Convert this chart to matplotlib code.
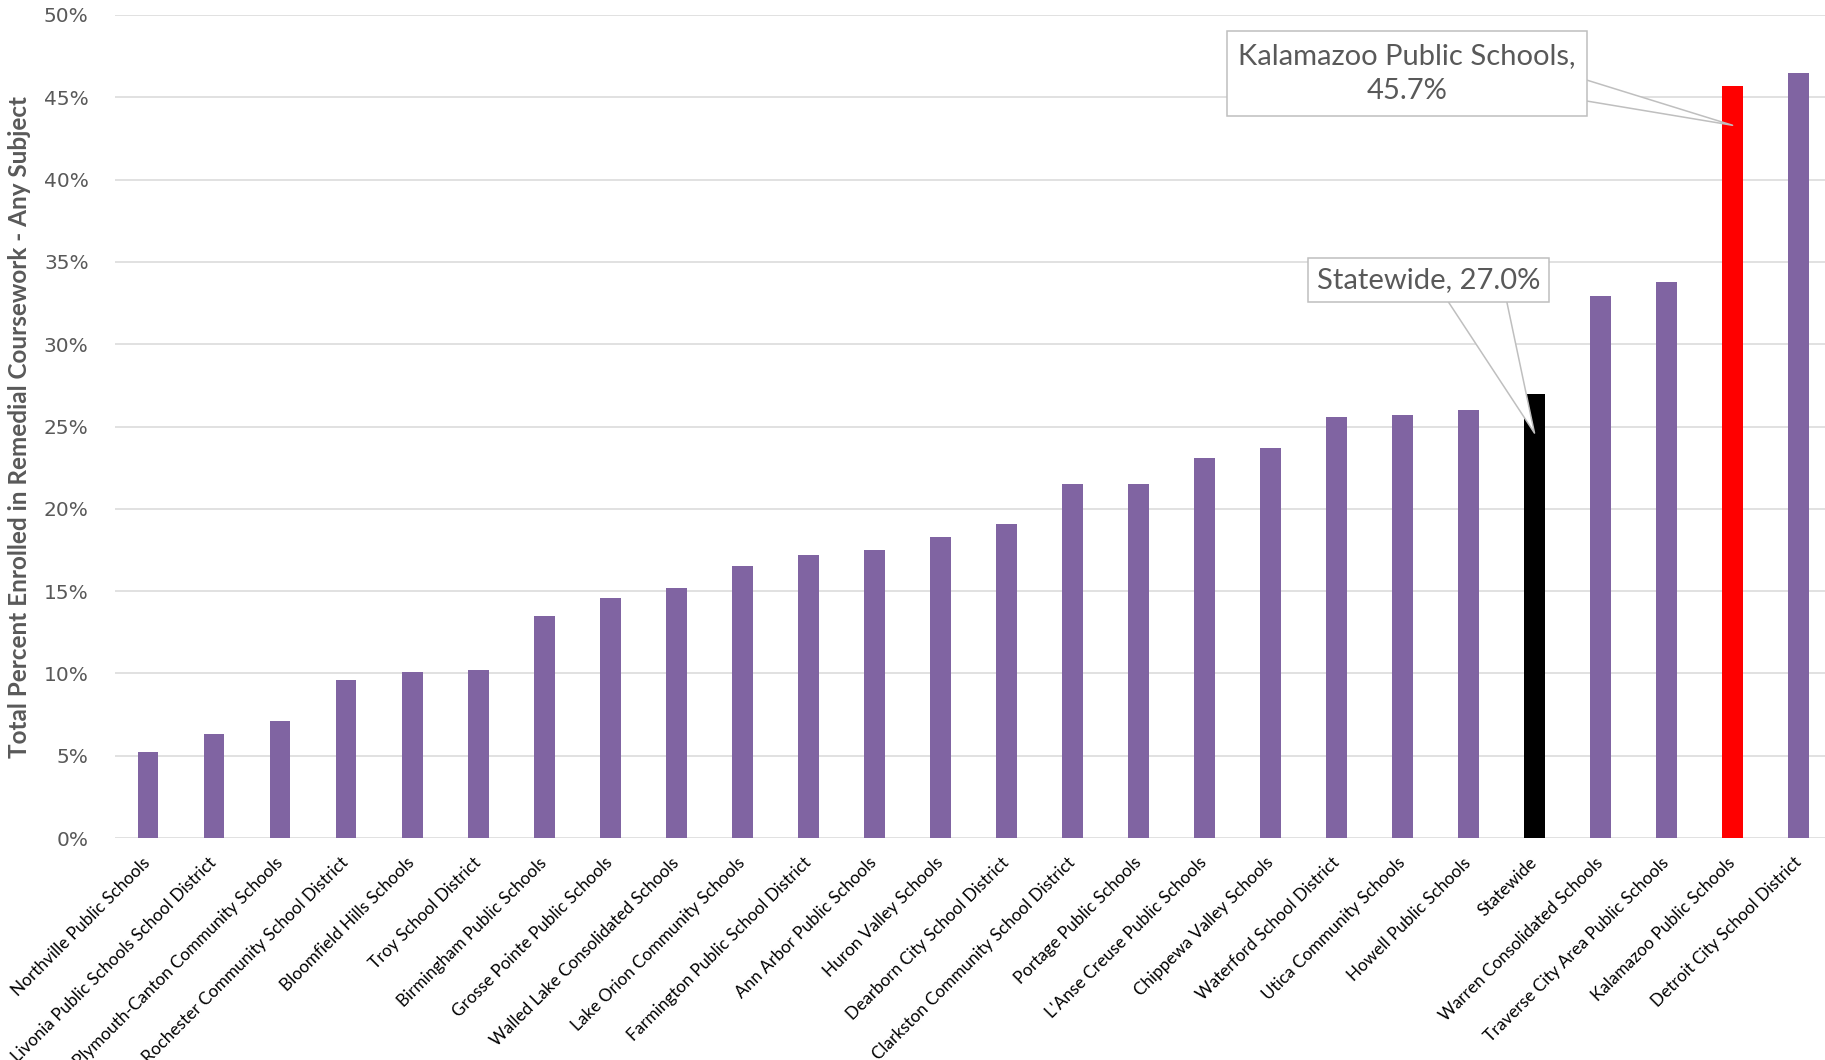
import numpy as np
import matplotlib
matplotlib.use('Agg')
from matplotlib import pyplot as plt
from matplotlib.ticker import PercentFormatter

# Data
districts = [
    'Northville Public Schools',
    'Livonia Public Schools School District',
    'Plymouth-Canton Community Schools',
    'Rochester Community School District',
    'Bloomfield Hills Schools',
    'Troy School District',
    'Birmingham Public Schools',
    'Grosse Pointe Public Schools',
    'Walled Lake Consolidated Schools',
    'Lake Orion Community Schools',
    'Farmington Public School District',
    'Ann Arbor Public Schools',
    'Huron Valley Schools',
    'Dearborn City School District',
    'Clarkston Community School District',
    'Portage Public Schools',
    "L'Anse Creuse Public Schools",
    'Chippewa Valley Schools',
    'Waterford School District',
    'Utica Community Schools',
    'Howell Public Schools',
    'Statewide',
    'Warren Consolidated Schools',
    'Traverse City Area Public Schools',
    'Kalamazoo Public Schools',
    'Detroit City School District',
]
pct_remedial = [5.2, 6.3, 7.1, 9.6, 10.1, 10.2, 13.5, 14.6, 15.2, 16.5,
                17.2, 17.5, 18.3, 19.1, 21.5, 21.5, 23.1, 23.7, 25.6, 25.7,
                26.0, 27.0, 32.9, 33.8, 45.7, 46.5]
pct_remedial = np.array(pct_remedial) / 100

purple = '#8064A2'
colors = [purple] * len(districts)
colors[districts.index('Statewide')] = 'black'
colors[districts.index('Kalamazoo Public Schools')] = '#FF0000'

grey_txt = '#595959'

fig = plt.figure(figsize=(18.25, 10.6), dpi=100)
ax = fig.add_axes([115/1825, 1 - 838/1060, (1825 - 115)/1825, (838 - 15)/1060])

x = np.arange(len(districts))
ax.bar(x, pct_remedial, width=0.315, color=colors, zorder=3)

ax.set_xlim(-0.5, len(districts) - 0.6)
ax.set_ylim(0, 0.5)
ax.set_yticks(np.arange(0, 0.51, 0.05))
ax.yaxis.set_major_formatter(PercentFormatter(1.0, decimals=0))
ax.grid(axis='y', color='#D9D9D9', linewidth=1.1, zorder=0)
ax.set_axisbelow(True)
for s in ['top', 'right', 'left', 'bottom']:
    ax.spines[s].set_visible(False)
ax.tick_params(axis='both', length=0)
ax.tick_params(axis='y', labelsize=14.5, labelcolor=grey_txt, pad=19)
for lbl in ax.get_yticklabels():
    lbl.set_fontfamily('DejaVu Sans')

ax.set_xticks(x)
ax.set_xticklabels(districts, rotation=45, ha='right', va='center',
                   rotation_mode='anchor', fontsize=12.3, family='Lato')
ax.tick_params(axis='x', pad=16)

ax.set_ylabel('Total Percent Enrolled in Remedial Coursework - Any Subject',
              fontsize=17.5, fontweight='bold', color=grey_txt, family='Lato')
ax.yaxis.set_label_coords(-0.049, 0.5)

# Callouts
box = dict(boxstyle='square,pad=0.4', fc='white', ec='#BFBFBF', lw=1.1)
kz = districts.index('Kalamazoo Public Schools')
ax.annotate('Kalamazoo Public Schools,\n45.7%', xy=(kz, 0.433), xytext=(19.07, 0.4645),
            ha='center', va='center', multialignment='center', linespacing=1.45,
            fontsize=21, family='Lato', color=grey_txt, bbox=box,
            arrowprops=dict(arrowstyle='wedge,tail_width=0.8,shrink_factor=0.5',
                            fc='white', ec='#BFBFBF', lw=1.1,
                            relpos=(0.97, 0.3), patchA=None, shrinkA=0, shrinkB=0),
            zorder=5)

sw = districts.index('Statewide')
box2 = dict(boxstyle='square,pad=0.3', fc='white', ec='#BFBFBF', lw=1.1)
ax.annotate('Statewide, 27.0%', xy=(sw, 0.246), xytext=(19.39, 0.339),
            ha='center', va='center',
            fontsize=21, family='Lato', color=grey_txt, bbox=box2,
            arrowprops=dict(arrowstyle='wedge,tail_width=2.0,shrink_factor=0.5',
                            fc='white', ec='#BFBFBF', lw=1.1,
                            relpos=(0.71, 0.1), patchA=None, shrinkA=0, shrinkB=0),
            zorder=5)

plt.savefig('out.png', dpi=100)
plt.close()
